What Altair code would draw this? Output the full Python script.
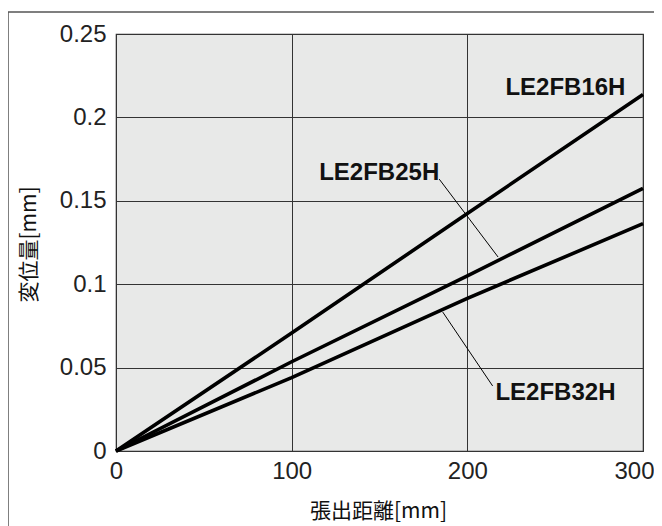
import altair as alt
import pandas as pd

# --- data ---
x_mm = [0, 100, 200, 300]
y_16h = [0, 0.0707, 0.1424, 0.2137]
y_25h = [0, 0.0535, 0.1050, 0.1575]
y_32h = [0, 0.0440, 0.0915, 0.1363]
series = ["LE2FB16H", "LE2FB25H", "LE2FB32H"]

label_x = [290, 184, 216]
label_y = [0.2176, 0.1665, 0.0345]
label_align = ["right", "right", "left"]

leader_x = [184, 186]
leader_y = [0.163, 0.0833]
leader_x2 = [217.5, 214.4]
leader_y2 = [0.1163, 0.039]

rows = []
for name, ys in zip(series, [y_16h, y_25h, y_32h]):
    for xv, yv in zip(x_mm, ys):
        rows.append({"series": name, "x": xv, "y": yv})
lines_df = pd.DataFrame(rows)

labels_df = pd.DataFrame({"text": series, "x": label_x, "y": label_y, "align": label_align})
leaders_df = pd.DataFrame({"x": leader_x, "y": leader_y, "x2": leader_x2, "y2": leader_y2})

xscale = alt.Scale(domain=[0, 300], nice=False)
yscale = alt.Scale(domain=[0, 0.25], nice=False)

xaxis = alt.Axis(
    values=[0, 100, 200, 300], grid=True, ticks=False, domain=False,
    labelFontSize=24, labelFont="Liberation Sans", labelColor="#222",
    labelPadding=8, labelFlush=False,
    labelAlign=alt.ExprRef("datum.value == 300 ? 'right' : 'center'"),
    labelOffset=alt.ExprRef("datum.value == 300 ? 11 : 0"),
    title="張出距離[mm]", titleFont="Noto Sans CJK JP", titleFontSize=21,
    titleFontWeight="normal", titleColor="#111",
    titleX=262, titleY=60, titleBaseline="middle", titleAlign="center",
)
yaxis = alt.Axis(
    values=[0, 0.05, 0.1, 0.15, 0.2, 0.25], format="~g", grid=True, ticks=False,
    domain=False, labelFontSize=24, labelFont="Liberation Sans", labelColor="#222",
    labelPadding=10,
    title="変位量[mm]", titleFont="Noto Sans CJK JP", titleFontSize=21,
    titleFontWeight="normal", titleColor="#111",
    titleX=-87, titleY=210, titleAngle=-90, titleBaseline="middle", titleAlign="center",
)

lines = alt.Chart(lines_df).mark_line(color="black", strokeWidth=3.6).encode(
    x=alt.X("x:Q", scale=xscale, axis=xaxis),
    y=alt.Y("y:Q", scale=yscale, axis=yaxis),
    detail="series:N",
)

leaders = alt.Chart(leaders_df).mark_rule(color="black", strokeWidth=1).encode(
    x=alt.X("x:Q", scale=xscale), y=alt.Y("y:Q", scale=yscale),
    x2="x2:Q", y2="y2:Q",
)

text_right = alt.Chart(labels_df[labels_df["align"] == "right"]).mark_text(
    align="right", baseline="middle", font="Liberation Sans", fontWeight="bold",
    fontSize=24, color="#111",
).encode(x=alt.X("x:Q", scale=xscale), y=alt.Y("y:Q", scale=yscale), text="text:N")

text_left = alt.Chart(labels_df[labels_df["align"] == "left"]).mark_text(
    align="left", baseline="middle", font="Liberation Sans", fontWeight="bold",
    fontSize=24, color="#111",
).encode(x=alt.X("x:Q", scale=xscale), y=alt.Y("y:Q", scale=yscale), text="text:N")

frame = alt.Chart(pd.DataFrame({"a": [0]})).mark_rect(
    fill="transparent", stroke="#555", strokeWidth=1.5
).encode(
    x=alt.value(-108), x2=alt.value(600), y=alt.value(-22), y2=alt.value(600)
)

chart = alt.layer(frame, lines, leaders, text_right, text_left).properties(
    width=527, height=417,
    autosize=alt.AutoSizeParams(type="none"),
    padding={"left": 108, "top": 26, "right": 11, "bottom": 75},
).configure_view(
    fill="#e8e9e8", stroke="#333", strokeWidth=1.2
).configure_axis(
    gridColor="#333", gridWidth=1, gridOpacity=1
)

chart.save("out.html", embed_options={"renderer": "svg", "actions": False})
